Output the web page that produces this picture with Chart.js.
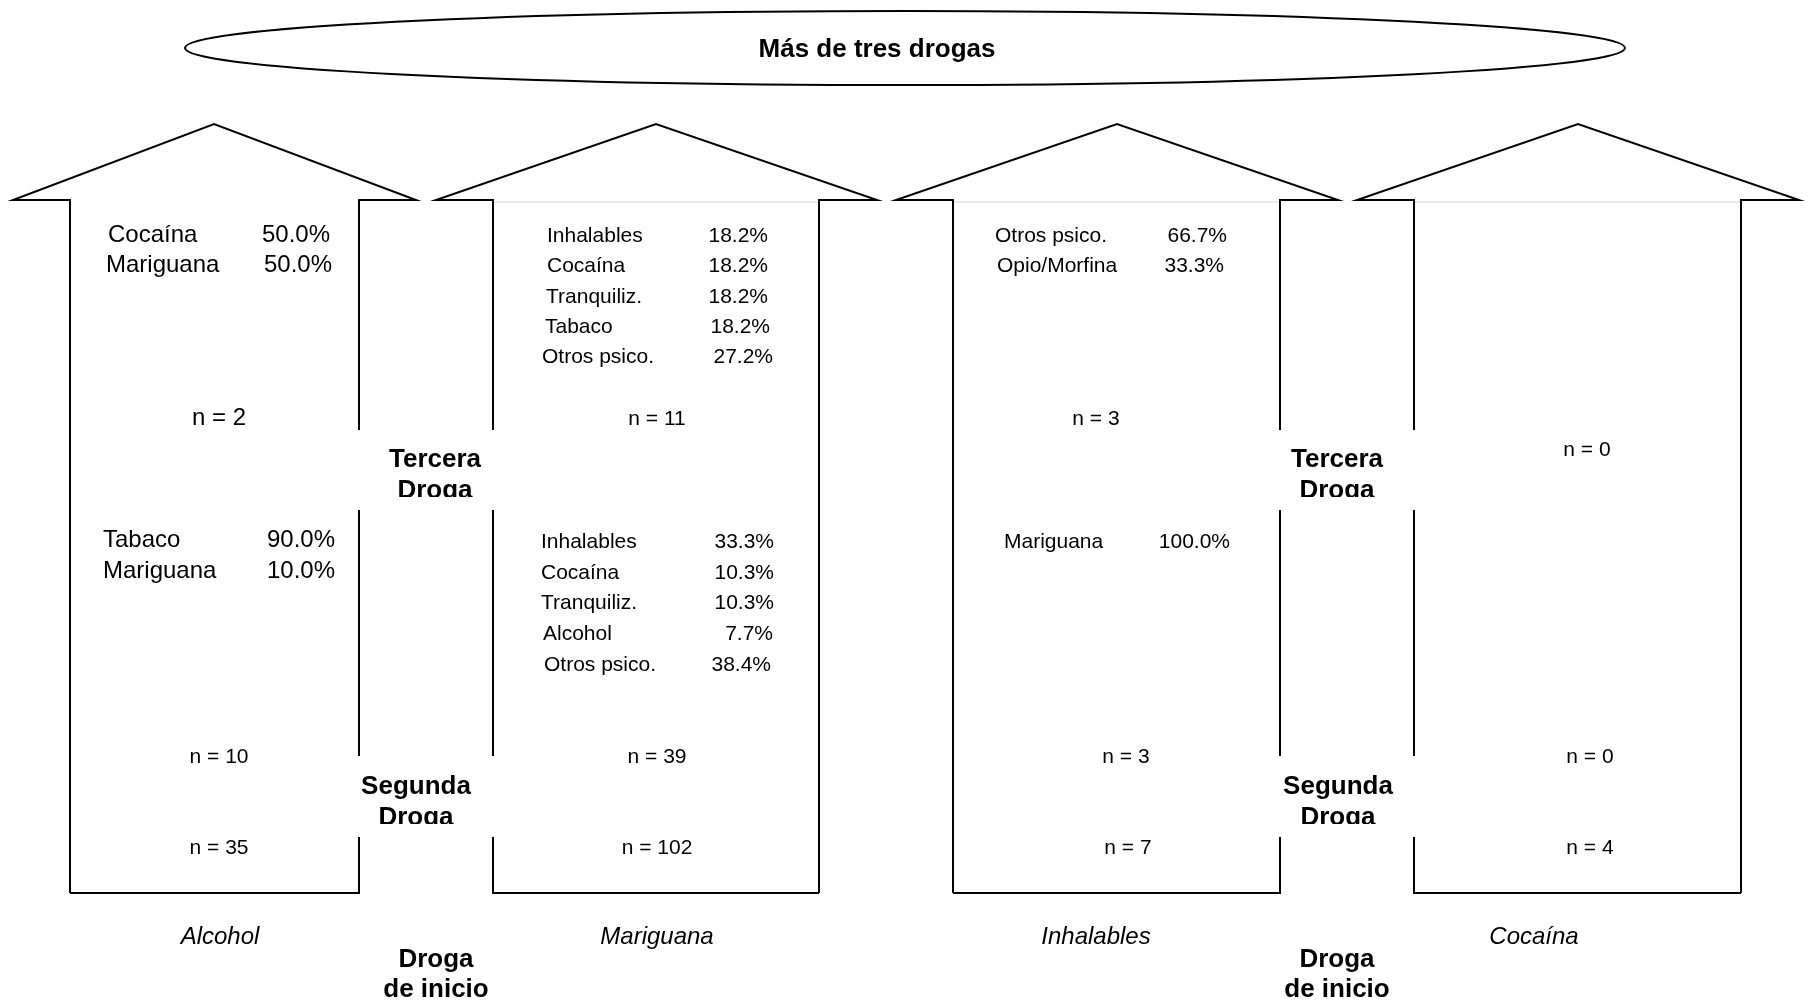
<!DOCTYPE html>
<html>
<head>
<meta charset="utf-8">
<title>Más de tres drogas</title>
<script src="https://cdn.jsdelivr.net/npm/chart.js@4.4.1/dist/chart.umd.min.js"></script>
<style>
	html, body { margin: 0; padding: 0; background: #fff; }
	#wrap { width: 1807px; height: 1005px; }
</style>
</head>
<body>
<div id="wrap"><canvas id="chart" width="1807" height="1005"></canvas></div>
<script>
'use strict';

// DATA
// ======================

var title        = 'Más de tres drogas'
var levelThird   = ['Tercera', 'Droga']
var levelSecond  = ['Segunda', 'Droga']
var levelStart   = ['Droga', 'de inicio']

var startDrugs   = ['Alcohol', 'Mariguana', 'Inhalables', 'Cocaína']
var nStart       = [35, 102, 7, 4]
var nSecond      = [10, 39, 3, 0]
var nThird       = [2, 11, 3, 0]

var secondLabels = [
	['Tabaco', 'Mariguana'],
	['Inhalables', 'Cocaína', 'Tranquiliz.', 'Alcohol', 'Otros psico.'],
	['Mariguana'],
	[]
]
var secondPct    = [
	[90.0, 10.0],
	[33.3, 10.3, 10.3, 7.7, 38.4],
	[100.0],
	[]
]

var thirdLabels  = [
	['Cocaína', 'Mariguana'],
	['Inhalables', 'Cocaína', 'Tranquiliz.', 'Tabaco', 'Otros psico.'],
	['Otros psico.', 'Opio/Morfina'],
	[]
]
var thirdPct     = [
	[50.0, 50.0],
	[18.2, 18.2, 18.2, 18.2, 27.2],
	[66.7, 33.3],
	[]
]

// LAYOUT (page units, same as pixels)
// ======================

var W = 1807, H = 1005
var FONT = '"Liberation Sans", Arial, Helvetica, sans-serif'

var roof = { apexY: 124, tipY: 200, bottom: 893 }
var gaps = [[430, 510], [756, 837]]   // breaks in the inner shafts for the level labels

var arrows = [
	{ tipL: 13,   shaftL: 70,   apex: 214,  shaftR: 359,  tipR: 416,  inner: 'R', rule: false },
	{ tipL: 436,  shaftL: 493,  apex: 656,  shaftR: 819,  tipR: 877,  inner: 'L', rule: true },
	{ tipL: 896,  shaftL: 953,  apex: 1117, shaftR: 1280, tipR: 1338, inner: 'R', rule: true },
	{ tipL: 1357, shaftL: 1414, apex: 1578, shaftR: 1741, tipR: 1799, inner: 'L', rule: true }
]

// where the text blocks sit inside each arrow (dx / dr: small per-row nudges of the original)
var blocks = [
	{ size: 24,
	  third:  { x: 108, r: 330, y: 242, step: 30,   dx: [0, -2], dr: [0, 2] },
	  second: { x: 103, r: 335, y: 547, step: 31,   dx: [0, 0],  dr: [0, 0] },
	  nThirdAt: [219, 425], nSecondAt: [219, 763], nStartAt: [219, 854], nThirdSize: 24, nSize: 21, nameX: 220 },
	{ size: 21,
	  third:  { x: 547, r: 768, y: 242, step: 30.3, dx: [0, 0, -1, -2, -5], dr: [0, 0, 0, 2, 5] },
	  second: { x: 541, r: 774, y: 548, step: 30.7, dx: [0, 0, 0, 2, 3],    dr: [0, 0, 0, -1, -3] },
	  nThirdAt: [657, 425], nSecondAt: [657, 763], nStartAt: [657, 854], nThirdSize: 21, nSize: 21, nameX: 657 },
	{ size: 21,
	  third:  { x: 995, r: 1227, y: 242, step: 30,  dx: [0, 2], dr: [0, -3] },
	  second: { x: 1004, r: 1230, y: 548, step: 30.7, dx: [0], dr: [0] },
	  nThirdAt: [1096, 425], nSecondAt: [1126, 763], nStartAt: [1128, 854], nThirdSize: 21, nSize: 21, nameX: 1096 },
	{ size: 21,
	  third:  { x: 0, r: 0, y: 0, step: 0, dx: [], dr: [] },
	  second: { x: 0, r: 0, y: 0, step: 0, dx: [], dr: [] },
	  nThirdAt: [1587, 456], nSecondAt: [1590, 763], nStartAt: [1590, 854], nThirdSize: 21, nSize: 21, nameX: 1534 }
]

var levelPairs = [
	{ third: 435, second: 416, start: 436 },
	{ third: 1337, second: 1338, start: 1337 }
]

// ARROW OUTLINES AS LINE DATASETS
// ======================

function seg(points, color, width) {
	return {
		data: points.map(function (p) { return { x: p[0], y: p[1] } }),
		showLine: true,
		borderColor: color || '#000',
		borderWidth: width || 2,
		pointRadius: 0,
		fill: false,
		tension: 0,
		clip: false
	}
}

var datasets = []
arrows.forEach(function (a) {
	var outer = a.inner == 'R' ? a.shaftL : a.shaftR
	var inner = a.inner == 'R' ? a.shaftR : a.shaftL
	var tipO  = a.inner == 'R' ? a.tipL : a.tipR
	var tipI  = a.inner == 'R' ? a.tipR : a.tipL

	datasets.push(seg([
		[outer, roof.bottom], [outer, roof.tipY], [tipO, roof.tipY],
		[a.apex, roof.apexY], [tipI, roof.tipY], [inner, roof.tipY], [inner, gaps[0][0]]
	]))
	datasets.push(seg([[inner, gaps[0][1]], [inner, gaps[1][0]]]))
	datasets.push(seg([[inner, gaps[1][1]], [inner, roof.bottom], [outer, roof.bottom]]))

	if (a.rule) datasets.push(seg([[a.shaftL + 1, roof.tipY + 2], [a.shaftR - 1, roof.tipY + 2]], '#d4d4d4', 1))
})

// TEXT / ELLIPSE PLUGIN
// ======================

var diagramText = {
	id: 'diagramText',
	afterDatasetsDraw: function (chart) {
		var ctx = chart.ctx
		var sx = chart.scales.x, sy = chart.scales.y
		var px = function (v) { return sx.getPixelForValue(v) }
		var py = function (v) { return sy.getPixelForValue(v) }

		function text(str, x, y, font, align) {
			ctx.font = font
			ctx.textAlign = align || 'left'
			ctx.textBaseline = 'alphabetic'
			ctx.fillStyle = '#000'
			ctx.fillText(str, px(x), py(y))
		}

		function list(labels, pcts, pos, font) {
			labels.forEach(function (lab, j) {
				var y = pos.y + j * pos.step
				text(lab, pos.x + (pos.dx[j] || 0), y, font, 'left')
				text(pcts[j].toFixed(1) + '%', pos.r + (pos.dr[j] || 0), y, font, 'right')
			})
		}

		ctx.save()

		// title ellipse
		ctx.beginPath()
		ctx.ellipse(px(905), py(48), Math.abs(px(720) - px(0)), Math.abs(py(37) - py(0)), 0, 0, Math.PI * 2)
		ctx.lineWidth = 2
		ctx.strokeStyle = '#000'
		ctx.stroke()
		text(title, 877, 57, 'bold 26px ' + FONT, 'center')

		// percentage lists and n values
		blocks.forEach(function (b, i) {
			var f = b.size + 'px ' + FONT
			list(thirdLabels[i], thirdPct[i], b.third, f)
			list(secondLabels[i], secondPct[i], b.second, f)
			text('n = ' + nThird[i], b.nThirdAt[0], b.nThirdAt[1], b.nThirdSize + 'px ' + FONT, 'center')
			text('n = ' + nSecond[i], b.nSecondAt[0], b.nSecondAt[1], b.nSize + 'px ' + FONT, 'center')
			text('n = ' + nStart[i], b.nStartAt[0], b.nStartAt[1], b.nSize + 'px ' + FONT, 'center')
			text(startDrugs[i], b.nameX, 944, 'italic 24px ' + FONT, 'center')
		})

		// level labels between the arrows (the lower line is cut like the original boxes)
		var bold = 'bold 26px ' + FONT
		levelPairs.forEach(function (p) {
			ctx.save()
			ctx.beginPath()
			ctx.rect(px(p.third - 80), py(430), 160, py(497) - py(430))
			ctx.clip()
			text(levelThird[0], p.third, 467, bold, 'center')
			text(levelThird[1], p.third, 498, bold, 'center')
			ctx.restore()

			ctx.save()
			ctx.beginPath()
			ctx.rect(px(p.second - 80), py(756), 160, py(824) - py(756))
			ctx.clip()
			text(levelSecond[0], p.second, 794, bold, 'center')
			text(levelSecond[1], p.second, 825, bold, 'center')
			ctx.restore()

			text(levelStart[0], p.start, 967, bold, 'center')
			text(levelStart[1], p.start, 997, bold, 'center')
		})

		ctx.restore()
	}
}

new Chart(document.getElementById('chart'), {
	type: 'scatter',
	data: { datasets: datasets },
	options: {
		responsive: false,
		animation: false,
		devicePixelRatio: 1,
		layout: { padding: 0 },
		plugins: {
			legend: { display: false },
			tooltip: { enabled: false }
		},
		scales: {
			x: { type: 'linear', min: 0, max: W, display: false },
			y: { type: 'linear', min: 0, max: H, reverse: true, display: false }
		}
	},
	plugins: [diagramText]
})
</script>
</body>
</html>
